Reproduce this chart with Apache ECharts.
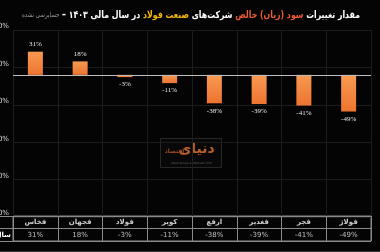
<!DOCTYPE html>
<html><head><meta charset="utf-8">
<script src="https://cdn.jsdelivr.net/npm/echarts@6/dist/echarts.min.js"></script>
<style>html,body{margin:0;padding:0;background:#040404;}#c{width:380px;height:252px;}</style>
</head><body><div id="c"></div>
<script>
const categories = ['فخاس','فجهان','فولاد','کویر','ارفع','فغدیر','فجر','فولاژ'];
const values = [31, 18, -3, -11, -38, -39, -41, -49];
const yMin = -190, yMax = 60, yStep = 50;
const tableRows = ['values', 'names'];
const tableHeader = 'سال مالی ۱۴۰۳';

const FONT = 'DejaVu Sans';
const chart = echarts.init(document.getElementById('c'), null, {renderer:'canvas'});
const pct = v => v + '%';

const tableData = [];
categories.forEach((c, i) => {
  tableData.push({value:[c, 'names'], label:{formatter: c, fontWeight:'bold', color:'#fff'}});
  tableData.push({value:[c, 'values'], label:{formatter: pct(values[i]), color:'#e6e6e6'}});
});

chart.setOption({
  backgroundColor:'#040404',
  animation:false,
  grid:[
    {left:13, right:9, top:30, height:187, outerBoundsMode:'none', containLabel:false},
    {left:13, right:9, top:216, height:25, outerBoundsMode:'none', containLabel:false, show:true, borderColor:'#8a8a8a', borderWidth:1, backgroundColor:'transparent'}
  ],
  xAxis:[
    {type:'category', gridIndex:0, data:categories, position:'bottom',
     axisLine:{show:false}, axisTick:{show:false}, axisLabel:{show:false},
     splitLine:{show:true, interval:0, lineStyle:{color:'#1c1c1c', width:1}}},
    {type:'category', gridIndex:1, data:categories,
     axisLine:{show:false}, axisTick:{show:false}, axisLabel:{show:false},
     splitLine:{show:true, interval:0, lineStyle:{color:'#8a8a8a', width:1}}}
  ],
  yAxis:[
    {type:'value', gridIndex:0, min:yMin, max:yMax, interval:yStep,
     axisLine:{show:false}, axisTick:{show:false},
     axisLabel:{formatter:pct, color:'#dcdcdc', fontSize:7, fontFamily:FONT, margin:4, verticalAlign:'bottom'},
     splitLine:{show:true, lineStyle:{color:'#1c1c1c', width:1}}},
    {type:'category', gridIndex:1, data:tableRows,
     axisLine:{show:false},
     axisTick:{show:true, length:13, lineStyle:{color:'#8a8a8a'}},
     axisLabel:{formatter:v => v === 'values' ? tableHeader : '', color:'#fff', fontWeight:'bold', fontSize:7, fontFamily:FONT, margin:2},
     splitLine:{show:true, lineStyle:{color:'#8a8a8a', width:1}}}
  ],
  series:[
    {type:'bar', xAxisIndex:0, yAxisIndex:0,
     data:values.map(v => ({value:v, label:{position: v < 0 ? 'bottom' : 'top'}})), barWidth:15,
     itemStyle:{color:new echarts.graphic.LinearGradient(0,0,0,1,[{offset:0,color:'#f89a52'},{offset:1,color:'#ec7430'}])},
     label:{show:true, formatter:p => pct(p.value), fontSize:7, color:'#e8e8e8', fontFamily:'Liberation Serif', distance:4},
     markLine:{silent:true, symbol:'none', label:{show:false}, lineStyle:{color:'#bdbdbd', width:1.2, type:'solid'}, data:[{yAxis:0}]}
    },
    {type:'scatter', xAxisIndex:1, yAxisIndex:1, symbolSize:0, data:tableData,
     label:{show:true, position:'inside', fontSize:7, fontFamily:FONT}}
  ],
  graphic:[
    {type:'text', x:191, y:15, scaleX:0.78, scaleY:1, z:10,
     style:{
       text:'{g|حسابرسی نشده}{w| – }{w|در سال مالی ۱۴۰۳ }{y|صنعت فولاد }{w|شرکت‌های }{r|سود (زیان) خالص }{w|مقدار تغییرات}',
       textAlign:'center', textVerticalAlign:'middle', verticalAlign:'middle',
       rich:{
         w:{fill:'#ffffff', fontFamily:FONT, fontWeight:'bold', fontSize:10},
         y:{fill:'#f2b705', fontFamily:FONT, fontWeight:'bold', fontSize:10},
         r:{fill:'#ec5b32', fontFamily:FONT, fontWeight:'bold', fontSize:10},
         g:{fill:'#9a9a9a', fontFamily:FONT, fontSize:7}
       }
     }},
    {type:'rect', left:0, bottom:0, shape:{width:380, height:1}, style:{fill:'#3a3a3a'}},
    {type:'group', left:160, top:138, children:[
      {type:'rect', shape:{x:0, y:0, width:61, height:29}, style:{fill:'#080808', stroke:'#262626', lineWidth:1}},
      {type:'text', x:36, y:4, style:{text:'دنیای', fill:'#b8602a', font:'bold 14px DejaVu Sans', textAlign:'center'}},
      {type:'text', x:14, y:10, style:{text:'اقتصاد', fill:'#9a4c20', font:'bold 6px DejaVu Sans', textAlign:'center'}},
      {type:'text', x:31, y:23, style:{text:'www.donya-e-eqtesad.com', fill:'#5a5a5a', font:'3px DejaVu Sans', textAlign:'center'}}
    ]}
  ]
});
</script></body></html>
